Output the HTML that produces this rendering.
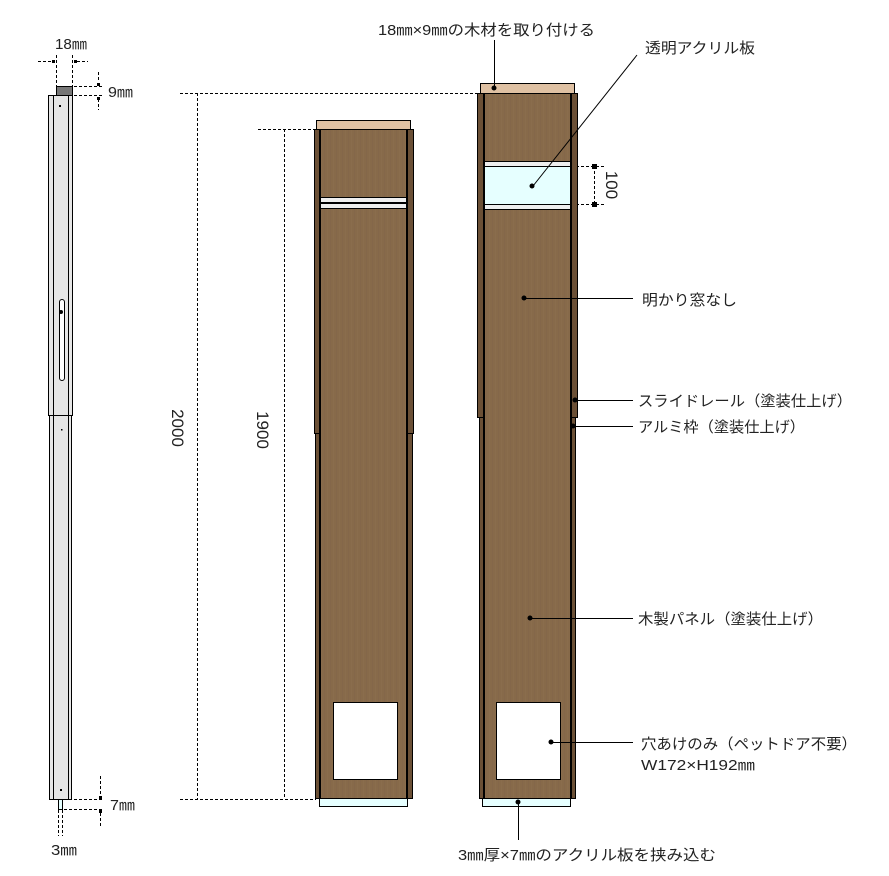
<!DOCTYPE html>
<html><head><meta charset="utf-8"><style>
html,body{margin:0;padding:0;background:#fff}
svg{display:block}
text{font-family:"Liberation Sans","Noto Sans CJK JP",sans-serif;fill:#222}
</style></head><body>
<svg width="889" height="876" viewBox="0 0 889 876" xmlns="http://www.w3.org/2000/svg">
<defs>
<pattern id="wood" width="6" height="40" patternUnits="userSpaceOnUse">
<rect width="6" height="40" fill="#876a4a"/>
<rect x="0" width="1" height="40" fill="#84674a"/>
<rect x="3" width="1" height="40" fill="#8a6d4d"/>
</pattern>
</defs>
<g stroke="#000" stroke-width="1" fill="none">
<rect x="56.5" y="86.5" width="16" height="9" fill="#777"/>
<rect x="48.5" y="95.5" width="24" height="320" fill="#e6e6e6"/>
<line x1="53.5" y1="95" x2="53.5" y2="415"/><line x1="68.5" y1="95" x2="68.5" y2="415"/>
<rect x="49.5" y="415.5" width="22" height="384" fill="#e6e6e6"/>
<line x1="53.5" y1="415" x2="53.5" y2="799"/><line x1="68.5" y1="415" x2="68.5" y2="799"/>
<rect x="58.5" y="799.5" width="4" height="10" fill="#e6ffff"/>
<rect x="59.5" y="299.5" width="5" height="81" rx="2.5" fill="#fff"/>
</g>
<circle cx="61" cy="312" r="2" fill="#000"/>
<rect x="59" y="105" width="2" height="2" fill="#000"/>
<rect x="60" y="789" width="2" height="2" fill="#000"/>
<rect x="61" y="429" width="1.5" height="1.5" fill="#000"/>
<g stroke="#000" stroke-width="1" stroke-dasharray="3,2" fill="none">
<line x1="56.5" y1="55" x2="56.5" y2="86"/><line x1="72.5" y1="55" x2="72.5" y2="86"/>
<line x1="38" y1="61.5" x2="52" y2="61.5"/><line x1="77" y1="61.5" x2="88" y2="61.5"/>
<line x1="74" y1="86.5" x2="104" y2="86.5"/><line x1="74" y1="95.5" x2="104" y2="95.5"/>
<line x1="98.5" y1="72" x2="98.5" y2="82"/><line x1="98.5" y1="99" x2="98.5" y2="110"/>
<line x1="74" y1="799.5" x2="104" y2="799.5"/><line x1="64" y1="809.5" x2="104" y2="809.5"/>
<line x1="100.5" y1="776" x2="100.5" y2="795"/><line x1="100.5" y1="813" x2="100.5" y2="828"/>
<line x1="58.5" y1="810" x2="58.5" y2="836"/><line x1="62.5" y1="810" x2="62.5" y2="836"/>
<line x1="180" y1="93.5" x2="477" y2="93.5"/><line x1="197.5" y1="93" x2="197.5" y2="799"/>
<line x1="180" y1="799.5" x2="316" y2="799.5"/>
<line x1="258" y1="129.5" x2="314" y2="129.5"/><line x1="284.5" y1="129" x2="284.5" y2="799"/>
<line x1="571" y1="166.5" x2="606" y2="166.5"/><line x1="571" y1="204.5" x2="606" y2="204.5"/>
<line x1="594.5" y1="166" x2="594.5" y2="204"/>
</g>
<rect x="52" y="60" width="3" height="3" fill="#000"/><rect x="74" y="60" width="3" height="3" fill="#000"/>
<rect x="97" y="83" width="3" height="3" fill="#000"/><rect x="97" y="97" width="3" height="3" fill="#000"/>
<rect x="99" y="796" width="3" height="3" fill="#000"/><rect x="99" y="810" width="3" height="3" fill="#000"/>
<rect x="592" y="164" width="5" height="5" fill="#000"/><rect x="592" y="202" width="5" height="5" fill="#000"/>
<g lengthAdjust="spacingAndGlyphs">
<text x="55" y="49" font-size="15" textLength="32" lengthAdjust="spacingAndGlyphs">18㎜</text>
<text x="108" y="97" font-size="15" textLength="25" lengthAdjust="spacingAndGlyphs">9㎜</text>
<text x="110" y="810" font-size="15" textLength="25" lengthAdjust="spacingAndGlyphs">7㎜</text>
<text x="51" y="855" font-size="15" textLength="26" lengthAdjust="spacingAndGlyphs">3㎜</text>
</g>
<text font-size="17" transform="translate(172,428) rotate(90)" text-anchor="middle">2000</text>
<text font-size="17" transform="translate(257,430) rotate(90)" text-anchor="middle">1900</text>
<text font-size="17" transform="translate(606,185) rotate(90)" text-anchor="middle">100</text>

<g stroke="#000" stroke-width="1">
<rect x="316.5" y="120.5" width="94" height="9" fill="#dfc1a3"/>
<rect x="319.5" y="129.5" width="88" height="669" fill="url(#wood)"/>
<rect x="314.5" y="129.5" width="6" height="304" fill="#6b5036"/>
<rect x="407.5" y="129.5" width="6" height="304" fill="#6b5036"/>
<rect x="315.5" y="433.5" width="5" height="365" fill="#6b5036"/>
<rect x="407.5" y="433.5" width="5" height="365" fill="#6b5036"/>
<rect x="320.5" y="197.5" width="87" height="5" fill="#eee"/>
<rect x="320.5" y="203.5" width="87" height="5" fill="#eee"/>
<rect x="333.5" y="702.5" width="64" height="77" fill="#fff"/>
<rect x="319.5" y="798.5" width="88" height="8" fill="#e6ffff"/>
</g>
<rect x="319" y="129" width="2" height="670" fill="#000"/>
<rect x="406" y="129" width="2" height="670" fill="#000"/>

<g stroke="#000" stroke-width="1">
<rect x="480.5" y="83.5" width="94" height="10" fill="#dfc1a3"/>
<rect x="483.5" y="93.5" width="88" height="705" fill="url(#wood)"/>
<rect x="477.5" y="93.5" width="6" height="324" fill="#6b5036"/>
<rect x="571.5" y="93.5" width="6" height="324" fill="#6b5036"/>
<rect x="479.5" y="417.5" width="5" height="381" fill="#6b5036"/>
<rect x="570.5" y="417.5" width="5" height="381" fill="#6b5036"/>
<rect x="483.5" y="161.5" width="88" height="5" fill="#eee"/>
<rect x="483.5" y="166.5" width="88" height="38" fill="#e6ffff"/>
<rect x="483.5" y="204.5" width="88" height="5" fill="#eee"/>
<rect x="496.5" y="702.5" width="64" height="77" fill="#fff"/>
<rect x="482.5" y="798.5" width="88" height="8" fill="#e6ffff"/>
</g>
<rect x="483" y="93" width="2" height="706" fill="#000"/>
<rect x="570" y="93" width="2" height="706" fill="#000"/>

<g stroke="#000" stroke-width="1" fill="none">
<line x1="494.5" y1="40" x2="494.5" y2="88"/>
<line x1="637" y1="55" x2="533" y2="186"/>
<line x1="524" y1="298.5" x2="633" y2="298.5"/>
<line x1="575" y1="400.5" x2="633" y2="400.5"/>
<line x1="573" y1="426.5" x2="633" y2="426.5"/>
<line x1="530" y1="618.5" x2="633" y2="618.5"/>
<line x1="551" y1="742.5" x2="633" y2="742.5"/>
<line x1="518.5" y1="802" x2="518.5" y2="840"/>
</g>
<g fill="#000">
<circle cx="494" cy="88" r="2.5"/><circle cx="532" cy="186" r="2.5"/>
<circle cx="524" cy="298" r="2.5"/><circle cx="575" cy="400" r="2.5"/>
<circle cx="573" cy="426" r="2.5"/><circle cx="530" cy="618" r="2.5"/>
<circle cx="551" cy="742" r="2.5"/><circle cx="518" cy="802" r="2.5"/>
</g>
<g font-size="15">
<text x="378" y="35" textLength="217" lengthAdjust="spacingAndGlyphs">18㎜×9㎜の木材を取り付ける</text>
<text x="645" y="53" textLength="110" lengthAdjust="spacingAndGlyphs">透明アクリル板</text>
<text x="642" y="305" textLength="95" lengthAdjust="spacingAndGlyphs">明かり窓なし</text>
<text x="638" y="406" textLength="214" lengthAdjust="spacingAndGlyphs">スライドレール（塗装仕上げ）</text>
<text x="638" y="432" textLength="167" lengthAdjust="spacingAndGlyphs">アルミ枠（塗装仕上げ）</text>
<text x="638" y="624" textLength="185" lengthAdjust="spacingAndGlyphs">木製パネル（塗装仕上げ）</text>
<text x="641" y="749" textLength="216" lengthAdjust="spacingAndGlyphs">穴あけのみ（ペットドア不要）</text>
<text x="641" y="770" textLength="114" lengthAdjust="spacingAndGlyphs">W172×H192㎜</text>
<text x="458" y="860" textLength="258" lengthAdjust="spacingAndGlyphs">3㎜厚×7㎜のアクリル板を挟み込む</text>
</g>
</svg>
</body></html>
